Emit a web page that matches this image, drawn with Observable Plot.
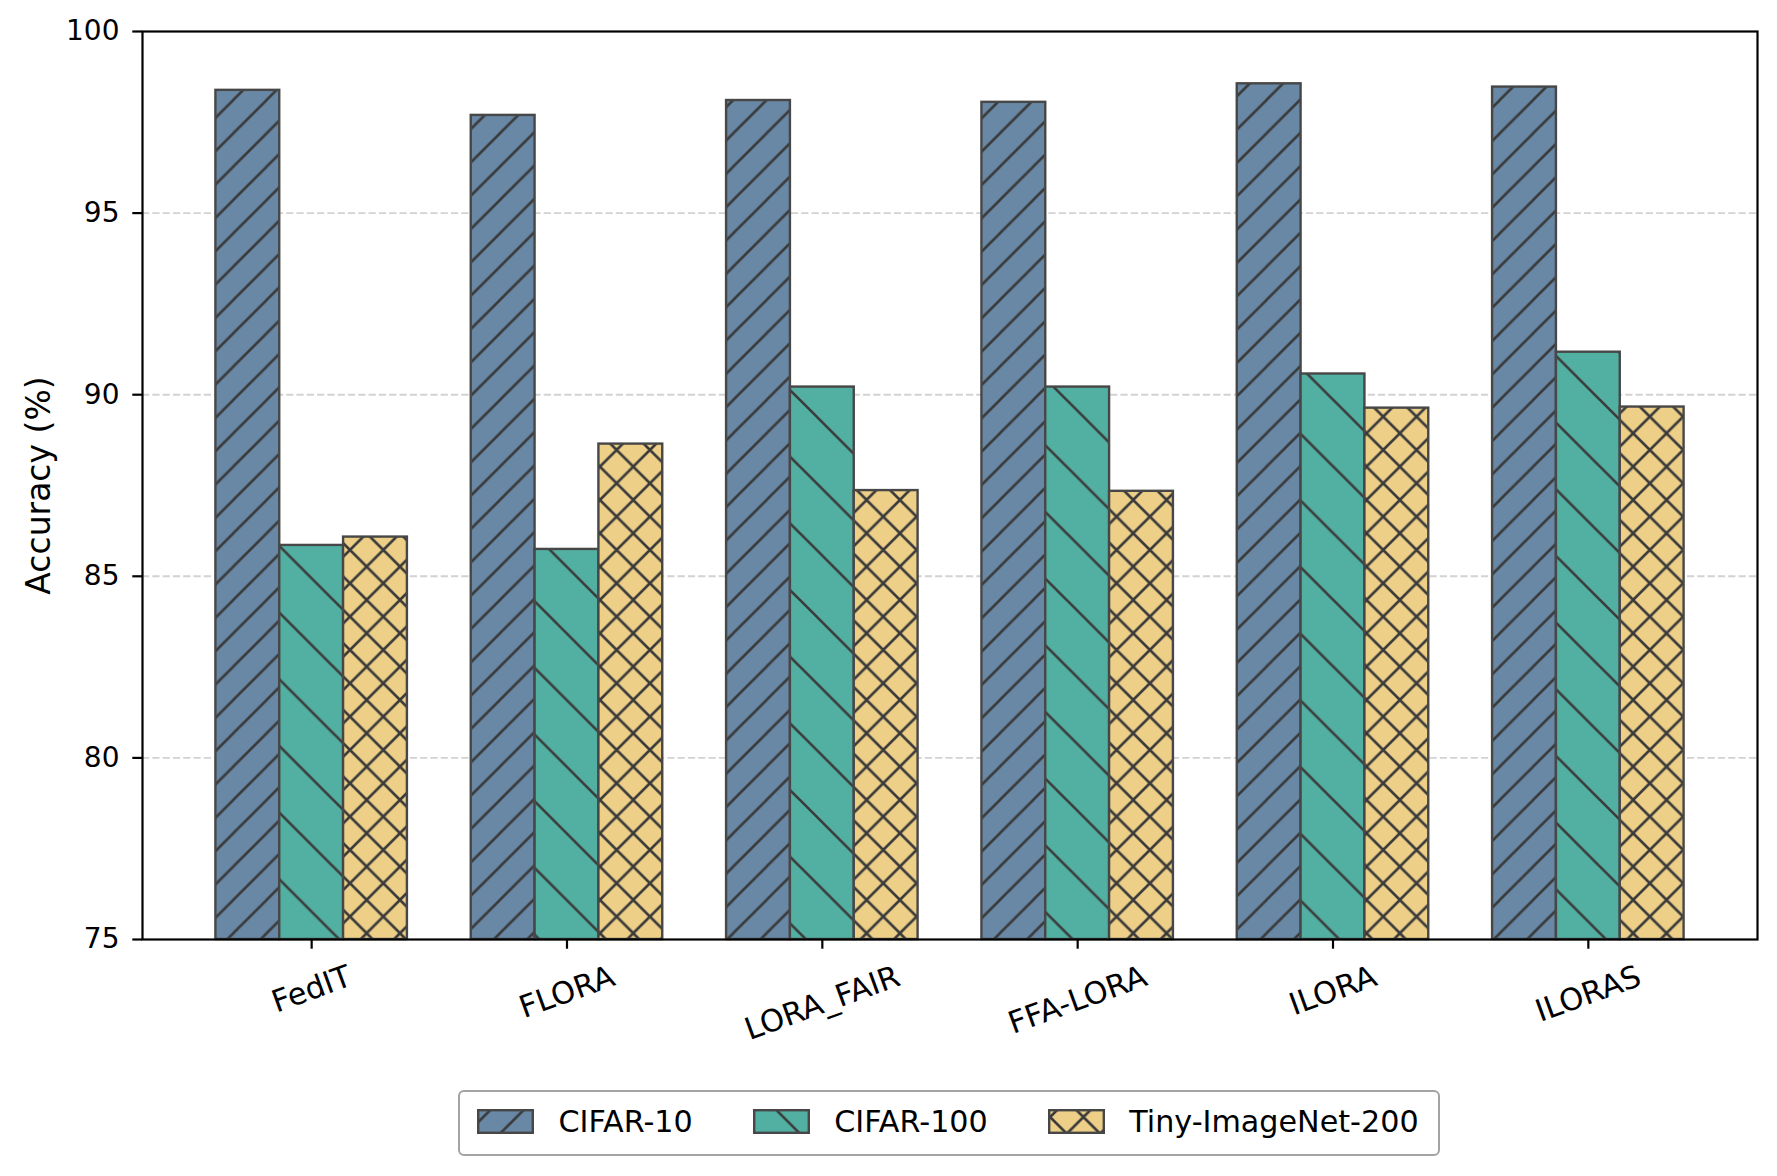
<!DOCTYPE html>
<html><head><meta charset="utf-8">
<script src="https://cdn.jsdelivr.net/npm/d3@7"></script>
<script src="https://cdn.jsdelivr.net/npm/@observablehq/plot@0.6"></script>
<style>
html,body{margin:0;padding:0;background:#fff;}
body{width:1777px;height:1176px;position:relative;overflow:hidden;font-family:"DejaVu Sans",sans-serif;}
#chart svg{display:block}
#legend{position:absolute;left:458px;top:1090px;width:982px;height:66px;box-sizing:border-box;border:2.5px solid #a3a3a3;border-radius:6px;display:flex;align-items:center;padding-left:17px;padding-bottom:4px;font-size:30.2px;color:#000;background:#fff;font-family:"DejaVu Sans",sans-serif;}
.item{display:flex;align-items:center;}
.item svg{display:block;margin-right:24.5px}
.item + .item{margin-left:60px}
</style></head><body>
<div id="chart"></div>
<div id="legend"></div>
<script>
// ---- data ----
const categories = ["FedIT", "FLORA", "LORA_FAIR", "FFA-LORA", "ILORA", "ILORAS"];
const seriesNames = ["CIFAR-10", "CIFAR-100", "Tiny-ImageNet-200"];
const cifar10 = [98.38, 97.69, 98.10, 98.05, 98.56, 98.47];
const cifar100 = [85.85, 85.74, 90.21, 90.21, 90.57, 91.17];
const tinyImageNet = [86.08, 88.64, 87.36, 87.34, 89.63, 89.66];
const yTicks = [75, 80, 85, 90, 95, 100];
const yLabel = "Accuracy (%)";

// ---- styles ----
const fills = ["#6888a6", "#52b0a3", "#edcf88"];
const hatchTypes = ["/", "\\", "x"];
const hatchColor = "#3a3a3a";
const edgeColor = "#474747";
const xLabelSize = 30.6;

function addPattern(defs, id, type, color, ox, oy) {
  const s = type === "\\" ? 66.67 : 33.33;
  const fwd = `M${-s/2},${s/2}L${s/2},${-s/2}M0,${s}L${s},0M${s/2},${3*s/2}L${3*s/2},${s/2}`;
  const back = `M${-s/2},${s/2}L${s/2},${3*s/2}M0,0L${s},${s}M${s/2},${-s/2}L${3*s/2},${s/2}`;
  const d = type === "/" ? fwd : type === "\\" ? back : fwd + back;
  const p = defs.append("pattern").attr("id", id).attr("patternUnits", "userSpaceOnUse")
    .attr("width", s).attr("height", s).attr("x", ox).attr("y", oy);
  p.append("rect").attr("width", s).attr("height", s).attr("fill", color);
  p.append("path").attr("d", d).attr("stroke", hatchColor).attr("stroke-width", 2.6).attr("fill", "none");
}

const seriesValues = [cifar10, cifar100, tinyImageNet];
const rows = [];
seriesValues.forEach((vals, k) => vals.forEach((v, i) => rows.push({series: seriesNames[k], k, i, cat: categories[i], value: v})));
const barWidth = 0.25;

const ctx = document.createElement("canvas").getContext("2d");
ctx.font = `${xLabelSize}px "DejaVu Sans"`;
const a = 20 * Math.PI / 180;
function labelDy(t) {
  const w = ctx.measureText(t).width;
  return 19.4 + (w * Math.sin(a) + 1.15 * xLabelSize * Math.cos(a)) / 2;
}

const plot = Plot.plot({
  width: 1777, height: 1075,
  marginLeft: 142, marginRight: 20, marginTop: 31, marginBottom: 136,
  style: {fontFamily: "DejaVu Sans", color: "#000", background: "#fff", overflow: "visible"},
  x: {type: "linear", domain: [-0.6625, 5.6625]},
  y: {domain: [75, 100]},
  marks: [
    Plot.ruleY(yTicks.slice(1, -1), {stroke: "#d2d2d2", strokeWidth: 1.9, strokeDasharray: "7.2,3.1"}),
    ...seriesNames.map((s, k) => Plot.rect(rows.filter(d => d.k === k), {
      x1: d => d.i + (k - 1) * barWidth - barWidth / 2,
      x2: d => d.i + (k - 1) * barWidth + barWidth / 2,
      y1: 75, y2: "value",
      fill: `url(#hatch-${k})`, stroke: edgeColor, strokeWidth: 2.4
    })),
    Plot.frame({stroke: "#000", strokeWidth: 2.2}),
    Plot.axisY({ticks: yTicks, tickSize: 9.7, tickPadding: 13.3, fontSize: 28, strokeWidth: 2.2, label: null}),
    Plot.axisX({ticks: categories.map((_, i) => i), tickSize: 9.7, tickFormat: () => "", strokeWidth: 2.2, label: null}),
    ...categories.map((c, i) => Plot.text([c], {
      x: () => i, frameAnchor: "bottom", text: d => d, rotate: -20, fontSize: xLabelSize,
      dy: labelDy(c), textAnchor: "middle", lineAnchor: "middle", fill: "#000"
    })),
    Plot.text([yLabel], {frameAnchor: "left", text: d => d, rotate: -90, fontSize: 33, dx: -102.6,
      textAnchor: "middle", lineAnchor: "middle", fill: "#000"})
  ]
});
document.getElementById("chart").appendChild(plot);
const defs = d3.select(plot).insert("defs", ":first-child");
seriesNames.forEach((s, k) => addPattern(defs, `hatch-${k}`, hatchTypes[k], fills[k], 0, 0));

// ---- legend ----
const legend = d3.select("#legend");
seriesNames.forEach((s, k) => {
  const item = legend.append("div").attr("class", "item");
  const svg = item.append("svg").attr("width", 57).attr("height", 25);
  const ldefs = svg.append("defs");
  item.append("span").text(s);
  const r = svg.node().getBoundingClientRect();
  addPattern(ldefs, `lhatch-${k}`, hatchTypes[k], fills[k], -r.left, -r.top);
  svg.append("rect").attr("x", 1.2).attr("y", 1.2).attr("width", 54.6).attr("height", 22.6)
    .attr("fill", `url(#lhatch-${k})`).attr("stroke", edgeColor).attr("stroke-width", 2.4);
});
</script>
</body></html>
